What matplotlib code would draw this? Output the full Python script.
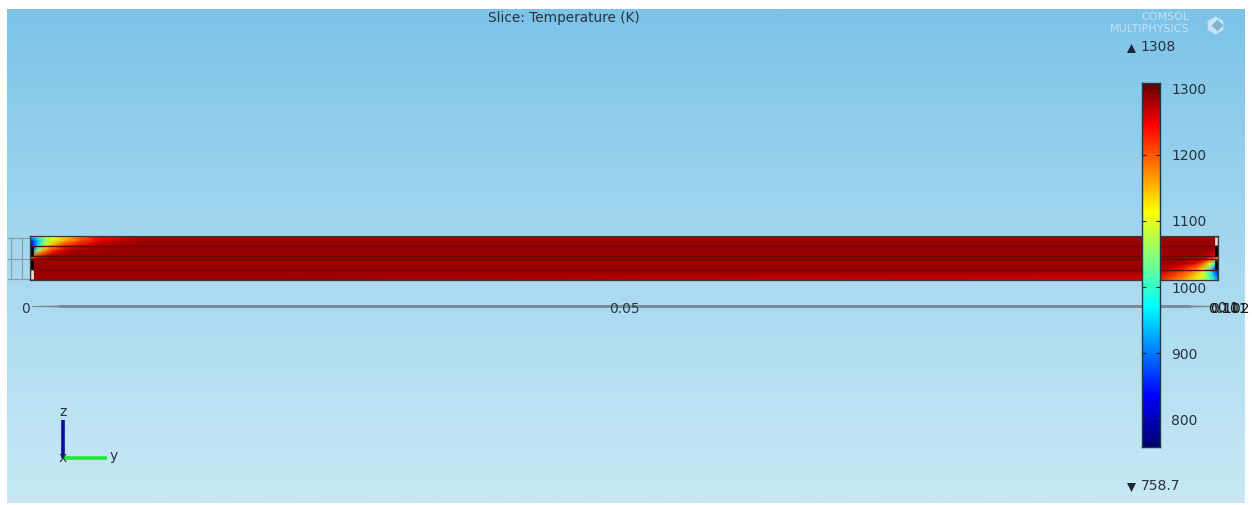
import numpy as np
import matplotlib
matplotlib.use('Agg')
import matplotlib.pyplot as plt
from matplotlib.colors import LinearSegmentedColormap

W, H = 1252, 505

# temperature scale
t_min = 758.7
t_max = 1308
bar_ticks = [800, 900, 1000, 1100, 1200, 1300]

# position along the rod (mm) and height (mm, top row first)
y_left = [0, 0.25, 0.67, 1.26, 1.85, 2.95, 4.2, 5.9, 9.3]
y_right = [94.1, 95.8, 97.05, 98.15, 98.74, 99.33, 99.75, 100]
z_rows = [3.7, 3.3, 2.9, 2.45, 2.0, 1.75, 1.35, 0.85, 0]

# temperature samples near the two ends, K
temp_left = [
    [940, 970, 1030, 1075, 1105, 1150, 1195, 1245, 1285],
    [850, 870, 940, 1035, 1090, 1155, 1205, 1255, 1285],
    [830, 850, 960, 1090, 1155, 1225, 1260, 1280, 1285],
    [850, 920, 1070, 1170, 1225, 1270, 1285, 1285, 1285],
    [1100, 1170, 1235, 1270, 1285, 1285, 1285, 1285, 1285],
    [1230, 1260, 1280, 1285, 1285, 1285, 1285, 1285, 1285],
    [1285, 1285, 1285, 1285, 1285, 1285, 1285, 1285, 1285],
    [1285, 1285, 1285, 1285, 1285, 1285, 1285, 1285, 1285],
    [1285, 1285, 1285, 1285, 1285, 1285, 1285, 1285, 1285],
]
temp_right = [
    [1285, 1285, 1285, 1285, 1285, 1285, 1285, 1285],
    [1285, 1285, 1285, 1285, 1285, 1285, 1285, 1285],
    [1285, 1285, 1285, 1285, 1285, 1285, 1285, 1285],
    [1285, 1285, 1285, 1285, 1285, 1285, 1280, 1275],
    [1285, 1285, 1285, 1285, 1280, 1265, 1240, 1220],
    [1285, 1285, 1285, 1280, 1260, 1215, 1165, 1130],
    [1285, 1285, 1275, 1245, 1200, 1110, 980, 920],
    [1285, 1265, 1225, 1170, 1100, 985, 870, 840],
    [1260, 1205, 1160, 1105, 1075, 1035, 965, 890],
]
layer_lines = [2.9, 2.0, 1.75, 0.85]

# axis labels along y
axis_labels = ['0', '0.05', '0.1']
end_labels = ['0.101', '0.102']


def px_axes(fig, left, top, right, bottom):
    """Axes placed with pixel edges, top-left origin"""
    return fig.add_axes([left / W, 1 - bottom / H, (right - left) / W, (bottom - top) / H])


rainbow = LinearSegmentedColormap.from_list('rainbow_comsol', [
    (0.0, '#00006e'), (0.14, '#0000ff'), (0.387, '#00ffff'), (0.517, '#80ff80'),
    (0.648, '#ffff00'), (0.885, '#ff0000'), (1.0, '#650000')])

fig = plt.figure(figsize=(W / 100, H / 100), dpi=100, facecolor='white')

# background gradient
bg = px_axes(fig, 7, 9, 1245, 503)
colors = LinearSegmentedColormap.from_list('sky', ['#7cc3e8', '#a5d8f0', '#c8e8f5'])
bg.imshow(np.linspace(0, 1, 256)[:, None], cmap=colors, aspect='auto')
bg.axis('off')

# wireframe left of the rod
over = fig.add_axes([0, 0, 1, 1], facecolor='none')
over.set_xlim(0, W)
over.set_ylim(H, 0)
over.axis('off')
for yy in [238, 259, 279]:
    over.plot([8, 30], [yy, yy], color='#8a9aa5', lw=0.8)
for xx in [11, 22]:
    over.plot([xx, xx], [238, 279], color='#8a9aa5', lw=0.8)

# the rod
ax = px_axes(fig, 30, 236, 1218, 280)
yy = np.array(y_left + y_right)
zz = np.array(z_rows)
field = np.hstack([np.array(temp_left), np.array(temp_right)])
ax.pcolormesh(yy, zz, field, cmap=rainbow, vmin=t_min, vmax=t_max, shading='gouraud')
ax.set_xlim(0, 100)
ax.set_ylim(0, 3.7)
ax.set_xticks([])
ax.set_yticks([])
for z in layer_lines:
    ax.axhline(z, color='#640808', lw=1.0)
for s in ax.spines.values():
    s.set_color('#3a3a3a')
    s.set_linewidth(0.9)
# end caps
ax.plot([0.13, 0.13], [2.05, 2.85], color='black', lw=2, solid_capstyle='butt')
ax.plot([0.13, 0.13], [0.9, 1.7], color='black', lw=2, solid_capstyle='butt')
ax.plot([0.13, 0.13], [0.05, 0.8], color='#e6e0d8', lw=2, solid_capstyle='butt')
ax.plot([99.87, 99.87], [2.05, 2.85], color='black', lw=2, solid_capstyle='butt')
ax.plot([99.87, 99.87], [0.9, 1.7], color='black', lw=2, solid_capstyle='butt')
ax.plot([99.87, 99.87], [2.95, 3.65], color='#e6d8d8', lw=2, solid_capstyle='butt')

# y axis line below the rod
over2 = fig.add_axes([0, 0, 1, 1], facecolor='none')
over2.set_xlim(0, W)
over2.set_ylim(H, 0)
over2.axis('off')
over2.fill([32, 58, 60, 1190, 1192, 1218, 1218, 1192, 1190, 60, 58, 32],
           [306, 305.5, 305, 305, 305.5, 306, 307, 307.5, 308, 308, 307.5, 307],
           color='#7e8c93', lw=0)
over2.text(25, 309, axis_labels[0], ha='center', va='center', fontsize=10, color='#2a3a44')
over2.text(624, 309, axis_labels[1], ha='center', va='center', fontsize=10, color='#2a3a44')
over2.text(1228, 308, axis_labels[2], ha='center', va='center', fontsize=10, color='#1a1a1a')
over2.text(1228, 309, end_labels[0], ha='center', va='center', fontsize=10, color='#1a1a1a')
over2.text(1230, 309, end_labels[1], ha='center', va='center', fontsize=10, color='#1a1a1a')

# title and logo
over2.text(564, 18, 'Slice: Temperature (K)', ha='center', va='center', fontsize=9.8, color='#26343f')
over2.text(1165, 17.5, 'COMSOL', ha='center', va='center', fontsize=8, color='#cfe6f3', alpha=0.85)
over2.text(1150, 28.5, 'MULTIPHYSICS', ha='center', va='center', fontsize=8, color='#cfe6f3', alpha=0.85)
over2.scatter([1215], [25], marker='h', s=170, color='#d8ecf5', alpha=0.8, lw=0)
over2.scatter([1217], [25], marker='D', s=35, color='#6fa6c4', alpha=0.8, lw=0)

# max and min labels
over2.scatter([1131], [47.5], marker='^', s=42, color='#1a2630', lw=0)
over2.text(1140, 47, '1308', ha='left', va='center', fontsize=10, color='#26343f')
over2.scatter([1131], [486.5], marker='v', s=42, color='#1a2630', lw=0)
over2.text(1141, 486, '758.7', ha='left', va='center', fontsize=10, color='#26343f')

# orientation triad
over2.plot([63, 63], [420, 458], color='#0a0aa8', lw=2.6, solid_capstyle='butt')
over2.plot([64, 107], [458, 458], color='#22e63c', lw=2.6, solid_capstyle='butt')
over2.text(63, 412, 'z', ha='center', va='center', fontsize=10, color='#26343f')
over2.text(114, 456, 'y', ha='center', va='center', fontsize=10, color='#26343f')
over2.text(63, 458, 'x', ha='center', va='center', fontsize=10, color='#26343f')

# colour bar on top of the rod
cax = px_axes(fig, 1142, 83, 1160, 447)
levels = np.linspace(t_min, t_max, 256)[:, None]
cax.imshow(levels, cmap=rainbow, vmin=t_min, vmax=t_max, aspect='auto', origin='lower',
           extent=[0, 1, t_min, t_max])
cax.set_xticks([])
cax.yaxis.tick_right()
cax.set_yticks(bar_ticks)
cax.tick_params(axis='y', direction='in', length=3, width=0.8, left=True, right=True,
                labelsize=10, labelcolor='#26343f', color='#222222', pad=8)
for s in cax.spines.values():
    s.set_color('#1c3a48')
    s.set_linewidth(1.0)

fig.savefig('out.png', dpi=100)
